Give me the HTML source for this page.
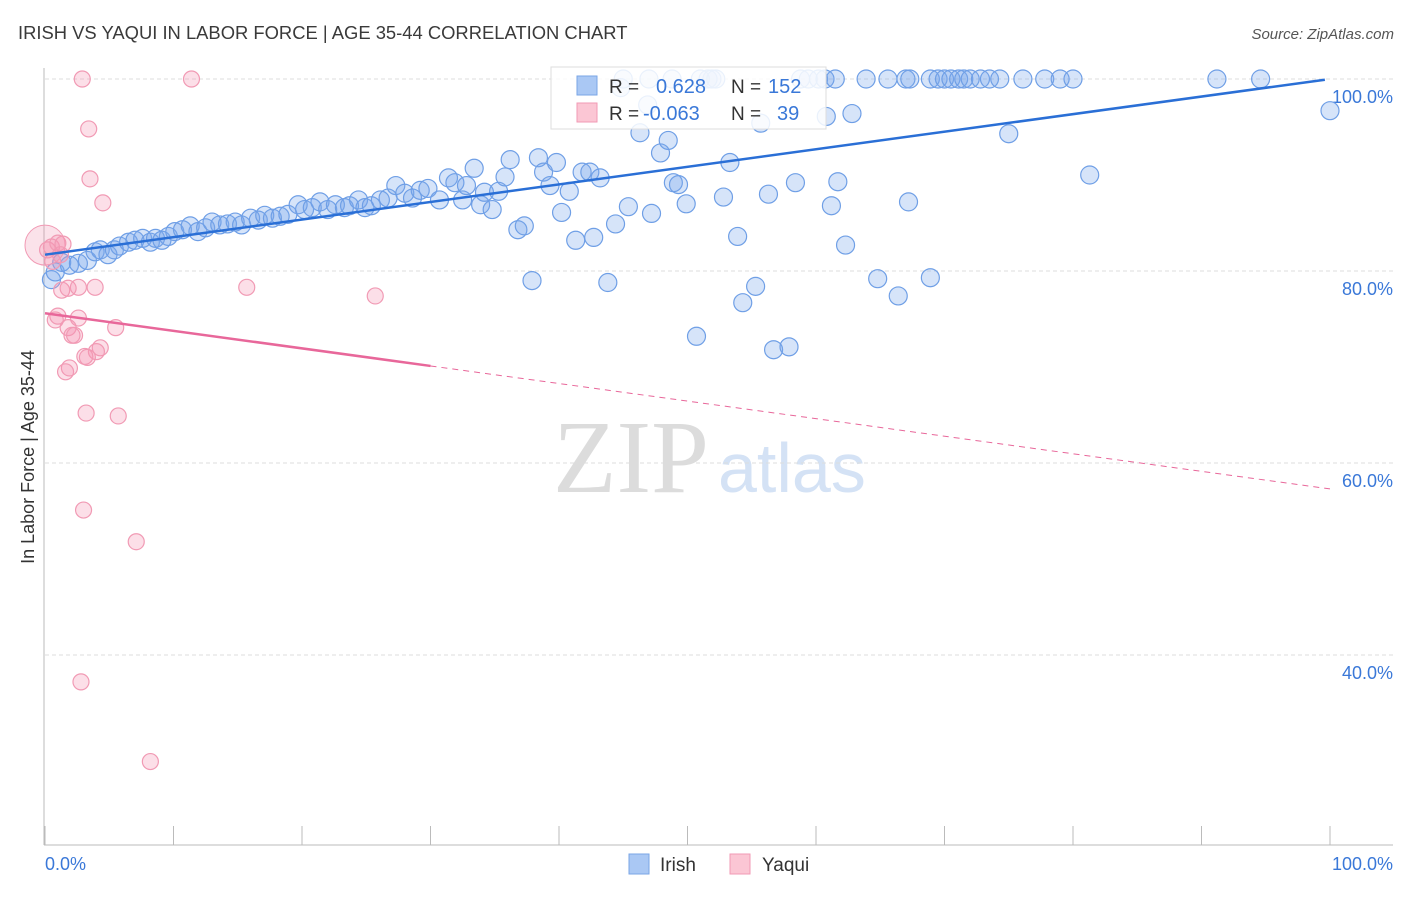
<!DOCTYPE html>
<html><head><meta charset="utf-8">
<style>
body{margin:0;background:#fff;font-family:"Liberation Sans",sans-serif;}
svg text{font-family:"Liberation Sans",sans-serif;}
</style></head>
<body>
<svg id="chart" width="1406" height="892" viewBox="0 0 1406 892" xmlns="http://www.w3.org/2000/svg">
<text x="18" y="39" font-size="18.4" fill="#3a3a3a">IRISH VS YAQUI IN LABOR FORCE | AGE 35-44 CORRELATION CHART</text>
<text x="1394" y="39" font-size="15" fill="#555" font-style="italic" text-anchor="end">Source: ZipAtlas.com</text>
<g>
<text x="553" y="492" font-size="104" fill="#dcdcdc" style="font-family:'Liberation Serif',serif">ZIP</text>
<text x="718" y="492" font-size="70" fill="#d4e2f5">atlas</text>
</g>
<g id="grid"></g>
<g id="axes"></g>
<g id="marks"></g>
<g id="trends"></g>
<text transform="translate(34,457) rotate(-90)" font-size="18" fill="#333" text-anchor="middle">In Labor Force | Age 35-44</text>
<g>
<rect x="551" y="67" width="275" height="62" fill="#fff" fill-opacity="0.85" stroke="#ddd"/>
<rect x="577" y="76" width="20" height="19" fill="#aac8f4" stroke="#7aa6e6"/>
<rect x="577" y="103" width="20" height="19" fill="#fbc6d4" stroke="#f19ab4"/>
<text x="609" y="93" font-size="19" fill="#333">R =</text>
<text x="656" y="93" font-size="20" fill="#3a78d8">0.628</text>
<text x="731" y="93" font-size="19" fill="#333">N =</text>
<text x="768" y="93" font-size="20" fill="#3a78d8">152</text>
<text x="609" y="120" font-size="19" fill="#333">R =</text>
<text x="643" y="120" font-size="20" fill="#3a78d8">-0.063</text>
<text x="731" y="120" font-size="19" fill="#333">N =</text>
<text x="777" y="120" font-size="20" fill="#3a78d8">39</text>
</g>
<g>
<rect x="629" y="854" width="20" height="20" fill="#aac8f4" stroke="#7aa6e6"/>
<text x="660" y="871" font-size="19" fill="#333">Irish</text>
<rect x="730" y="854" width="20" height="20" fill="#fbc6d4" stroke="#f19ab4"/>
<text x="762" y="871" font-size="19" fill="#333">Yaqui</text>
</g>
</svg>
<script>
const yTicks=[100,80,60,40];
const yTickLabels=["100.0%","80.0%","60.0%","40.0%"];
const xTicks=[0,10,20,30,40,50,60,70,80,90,100];
const xEndLabels=["0.0%","100.0%"];
const irish=[[0.5,79.1],[0.8,79.9],[1.3,80.9],[1.9,80.6],[2.6,80.8],[3.3,81.1],[3.9,82.0],[4.3,82.2],[4.9,81.7],[5.4,82.2],[5.8,82.6],[6.5,83.0],[7,83.2],[7.6,83.4],[8.2,83.0],[8.6,83.4],[9.1,83.2],[9.6,83.6],[10.1,84.1],[10.7,84.3],[11.3,84.7],[11.9,84.1],[12.5,84.5],[13,85.1],[13.6,84.8],[14.2,84.9],[14.8,85.1],[15.3,84.8],[16,85.5],[16.6,85.3],[17.1,85.8],[17.7,85.5],[18.3,85.7],[18.9,85.9],[19.7,86.9],[20.2,86.4],[20.8,86.6],[21.4,87.2],[22,86.4],[22.6,86.9],[23.3,86.6],[23.7,86.8],[24.4,87.4],[24.9,86.6],[25.4,86.8],[26.1,87.4],[26.7,87.6],[27.3,88.9],[28,88.1],[28.6,87.6],[29.2,88.4],[29.8,88.6],[30.7,87.4],[31.4,89.7],[31.9,89.2],[32.5,87.4],[32.8,88.9],[33.4,90.7],[33.9,86.9],[34.2,88.2],[34.8,86.4],[35.3,88.3],[35.8,89.8],[36.2,91.6],[36.8,84.3],[37.3,84.7],[37.9,79.0],[38.4,91.8],[38.8,90.3],[39.3,88.9],[39.8,91.3],[40.2,86.1],[40.8,88.3],[41.3,83.2],[41.8,90.3],[42.4,90.3],[42.7,83.5],[43.2,89.7],[43.8,78.8],[44.4,84.9],[44.8,99.1],[45.4,86.7],[46.3,94.4],[46.9,97.3],[47.2,86.0],[47.9,92.3],[48.5,93.6],[48.9,89.2],[49.3,89.0],[49.9,87.0],[50.7,73.2],[52.8,87.7],[53.3,91.3],[53.9,83.6],[54.3,76.7],[55.3,78.4],[55.7,95.4],[56.3,88.0],[56.7,71.8],[57.9,72.1],[58.4,89.2],[60.8,96.1],[61.2,86.8],[61.7,89.3],[62.3,82.7],[62.8,96.4],[64.8,79.2],[66.4,77.4],[67.2,87.2],[68.9,79.3],[75,94.3],[81.3,90.0],[100,96.7],
[45,100],[47,100],[48.8,100],[51,100],[51.6,100],[51.9,100],[52.2,100],[58.8,100],[59.4,100],[60.2,100],[60.7,100],[61.5,100],[63.9,100],[65.6,100],[67,100],[67.3,100],[68.9,100],[69.5,100],[70,100],[70.5,100],[71.1,100],[71.5,100],[72,100],[72.8,100],[73.5,100],[74.3,100],[76.1,100],[77.8,100],[79,100],[80,100],[91.2,100],[94.6,100]];
const yaqui=[[0.2,82.2],[0.5,82.5],[1,82.9],[1.4,82.8],[1.2,81.7],[0.6,81.0],[2.9,100],[11.4,100],[3.4,94.8],[3.5,89.6],[4.5,87.1],[1.3,78.0],[1.8,78.2],[2.6,78.3],[3.9,78.3],[15.7,78.3],[25.7,77.4],[0.8,74.9],[1,75.3],[2.6,75.1],[1.8,74.1],[2.1,73.3],[2.3,73.3],[5.5,74.1],[4.3,72.0],[4.0,71.6],[3.1,71.1],[3.3,71.0],[1.9,69.9],[1.6,69.5],[3.2,65.2],[5.7,64.9],[3,55.1],[7.1,51.8],[2.8,37.2],[8.2,28.9]];
const irishTrend=[81.7,100];
const yaquiTrend=[75.6,57.3];
const yaquiSolidEnd=30;

const NS="http://www.w3.org/2000/svg";
const X=v=>45+v*12.85, Y=v=>79+(100-v)*9.6;
function mk(tag,attrs,parent){const e=document.createElementNS(NS,tag);for(const k in attrs)e.setAttribute(k,attrs[k]);parent.appendChild(e);return e;}
const grid=document.getElementById('grid'),axes=document.getElementById('axes'),marks=document.getElementById('marks'),trends=document.getElementById('trends');
yTicks.forEach((t,i)=>{
  const l=mk('line',{x1:45,x2:1393,y1:Y(t),y2:Y(t),stroke:'#ddd','stroke-dasharray':'4,3'},grid);
  
  
  const tx=mk('text',{x:1393,y:Y(t)+24,'font-size':18,fill:'#3a78d8','text-anchor':'end'},axes);
  tx.textContent=yTickLabels[i];
  
  
});
const ya=mk('line',{x1:44,x2:44,y1:68,y2:845,stroke:'#bbb'},axes);


const xa=mk('line',{x1:44,x2:1393,y1:845,y2:845,stroke:'#bbb'},axes);


xTicks.forEach(t=>{
  const l=mk('line',{x1:X(t),x2:X(t),y1:826,y2:845,stroke:'#bbb'},axes);
  
  
});
[[0,'start',45],[100,'end',1393]].forEach((d,i)=>{
  const tx=mk('text',{x:d[2],y:870,'font-size':18,fill:'#3a78d8','text-anchor':d[1]},axes);
  tx.textContent=xEndLabels[i];
  
  
});
irish.forEach(p=>{
  const c=mk('circle',{cx:X(p[0]),cy:Y(p[1]),r:9,fill:'rgba(120,165,235,0.3)',stroke:'#6f9fe6','stroke-width':1.2},marks);
  
  
});
const big=mk('circle',{cx:X(0),cy:Y(82.7),r:20,fill:'rgba(240,140,170,0.25)',stroke:'#f19ab4'},marks);


yaqui.forEach(p=>{
  const c=mk('circle',{cx:X(p[0]),cy:Y(p[1]),r:8,fill:'rgba(245,150,180,0.3)',stroke:'#f19ab4','stroke-width':1.2},marks);
  
  
});
const it=mk('line',{x1:X(0),y1:Y(irishTrend[0]),x2:X(99.6),y2:Y(irishTrend[0]+(irishTrend[1]-irishTrend[0])*0.996),stroke:'#2a6fd6','stroke-width':2.5},trends);


const ys=v=>yaquiTrend[0]+(yaquiTrend[1]-yaquiTrend[0])*v/100;
const p1=mk('line',{x1:X(0),y1:Y(ys(0)),x2:X(yaquiSolidEnd),y2:Y(ys(yaquiSolidEnd)),stroke:'#e8679a','stroke-width':2.5},trends);


const p2=mk('line',{x1:X(yaquiSolidEnd),y1:Y(ys(yaquiSolidEnd)),x2:X(100),y2:Y(ys(100)),stroke:'#e8679a','stroke-width':1,'stroke-dasharray':'6,5'},trends);


</script>
</body></html>
